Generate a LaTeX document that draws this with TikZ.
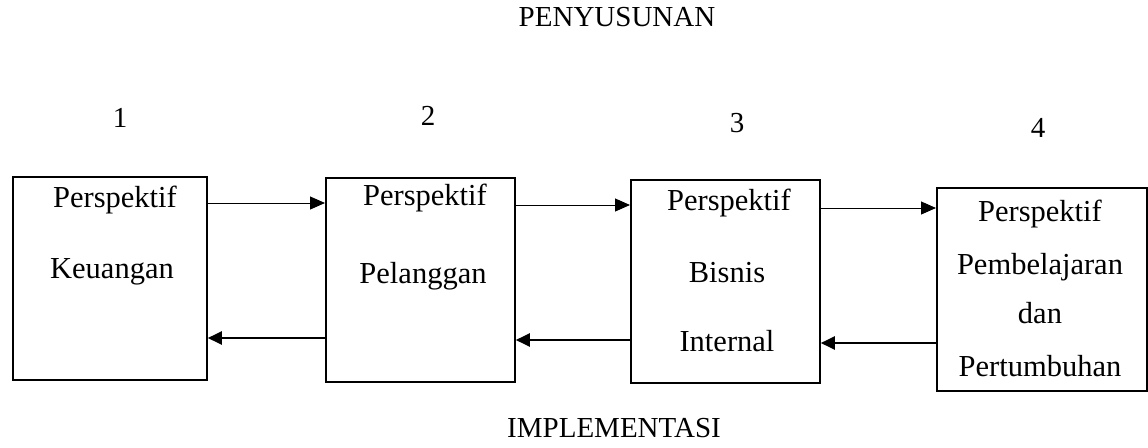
\documentclass[tikz,border=0pt]{standalone}
\usepackage{fontspec}
\setmainfont{Liberation Serif}
\usetikzlibrary{arrows.meta}
\begin{document}
\begin{tikzpicture}[x=1pt,y=-1pt,
  persp/.style={draw, line width=1.8pt, inner sep=0pt, anchor=north west},
  lbl/.style={font=\fontsize{29}{34}\selectfont, inner sep=0pt, text height=0.7em, text depth=0.2em},
  txt/.style={lbl, font=\fontsize{30.5}{36}\selectfont},
  fwd/.style={line width=1pt, -{Triangle[length=15pt,width=13pt]}},
  back/.style={line width=2.3pt, -{Triangle[length=14pt,width=13pt]}}]
\useasboundingbox (0,0) rectangle (1148,447);

% headings
\node[lbl] (top) at (617,24) {PENYUSUNAN};
\node[lbl] (bottom) at (614,435) {IMPLEMENTASI};

% numbers
\node[lbl] (n1) at (120,125) {1};
\node[lbl] (n2) at (428,123) {2};
\node[lbl] (n3) at (737,130) {3};
\node[lbl] (n4) at (1038,135) {4};

% perspective boxes
\node[persp, minimum width=194pt, minimum height=203pt] (b1) at (12,176) {};
\node[persp, minimum width=189pt, minimum height=204pt] (b2) at (325,177) {};
\node[persp, minimum width=189pt, minimum height=203pt] (b3) at (630,179) {};
\node[persp, minimum width=210pt, minimum height=203pt] (b4) at (936,187) {};

% box texts
\node[txt] (t1a) at (115,205) {Perspektif};
\node[txt] (t1b) at (112,276) {Keuangan};
\node[txt] (t2a) at (425,203) {Perspektif};
\node[txt] (t2b) at (423,281) {Pelanggan};
\node[txt] (t3a) at (729,208) {Perspektif};
\node[txt] (t3b) at (727,280) {Bisnis};
\node[txt] (t3c) at (727,349) {Internal};
\node[txt] (t4a) at (1040,219) {Perspektif};
\node[txt] (t4b) at (1040,272) {Pembelajaran};
\node[txt] (t4c) at (1040,321) {dan};
\node[txt] (t4d) at (1040,374) {Pertumbuhan};

% forward flow (top)
\draw[fwd] (b1.east |- 0,203) -- (b2.west |- 0,203);
\draw[fwd] (b2.east |- 0,205) -- (b3.west |- 0,205);
\draw[fwd] (b3.east |- 0,208) -- (b4.west |- 0,208);

% backward flow (bottom)
\draw[back] (b2.west |- 0,338) -- (b1.east |- 0,338);
\draw[back] (b3.west |- 0,340) -- (b2.east |- 0,340);
\draw[back] (b4.west |- 0,343) -- (b3.east |- 0,343);
\end{tikzpicture}
\end{document}
